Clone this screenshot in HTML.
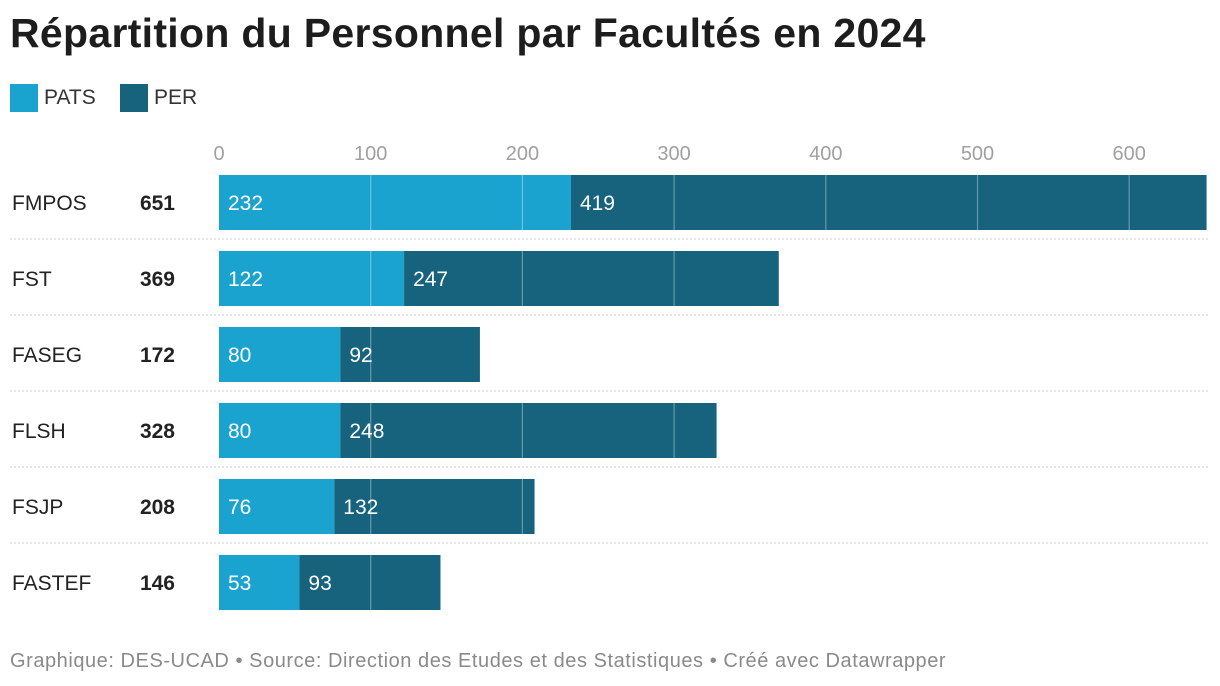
<!DOCTYPE html>
<html><head><meta charset="utf-8"><style>
body{margin:0;background:#fff;font-family:"Liberation Sans",sans-serif;}
#wrap{position:relative;width:1220px;height:686px;overflow:hidden}
h1{position:absolute;left:10px;top:10px;margin:0;font-size:41px;font-weight:bold;color:#1d1d1d;letter-spacing:0.3px}
.leg{position:absolute;top:84px;font-size:21px;color:#333;display:flex;align-items:center}
.sw{width:28px;height:28px;margin-right:6px}
.foot{position:absolute;left:10px;top:650px;font-size:20px;color:#8a8a8a;letter-spacing:0.55px}
</style></head><body>
<div id="wrap">
<h1>Répartition du Personnel par Facultés en 2024</h1>
<div class="leg" style="left:10px"><div class="sw" style="background:#1ba3d0"></div>PATS</div>
<div class="leg" style="left:120px"><div class="sw" style="background:#17627c"></div>PER</div>
<svg id="svg" width="1220" height="686" style="position:absolute;left:0;top:0"></svg>
<div class="foot">Graphique: DES-UCAD • Source: Direction des Etudes et des Statistiques • Créé avec Datawrapper</div>
</div>
<script>
const categories=["FMPOS","FST","FASEG","FLSH","FSJP","FASTEF"];
const pats=[232,122,80,80,76,53];
const per=[419,247,92,248,132,93];
const ticks=[0,100,200,300,400,500,600];
const svg=document.getElementById('svg');
const NS='http://www.w3.org/2000/svg';
const x=v=>219+v*1.517;
const rowY=i=>175+i*76;
const BH=55;
function mk(t,a,txt){const e=document.createElementNS(NS,t);for(const k in a)e.setAttribute(k,a[k]);if(txt!==undefined)e.textContent=txt;svg.appendChild(e);return e;}
ticks.forEach(t=>{
 const l=mk('text',{x:x(t),y:160,'text-anchor':'middle','font-size':20,fill:'#a0a0a0','font-family':'Liberation Sans'},t);
 
 
});
categories.forEach((c,i)=>{
 const y=rowY(i);
 if(i>0){const s=mk('line',{x1:10,x2:1208,y1:y-12,y2:y-12,stroke:'#cccccc','stroke-dasharray':'2,2'});
 
 }
 const lb=mk('text',{x:12,y:y+35,'font-size':21,fill:'#222'},c);
 
 
 const tot=mk('text',{x:175,y:y+35,'font-size':21,'font-weight':'bold',fill:'#222','text-anchor':'end'},pats[i]+per[i]);
 
 
 const b1=mk('rect',{x:x(0),y:y,width:x(pats[i])-x(0),height:BH,fill:'#1ba3d0'});
 
 
 const b2=mk('rect',{x:x(pats[i]),y:y,width:x(pats[i]+per[i])-x(pats[i]),height:BH,fill:'#17627c'});
 
 
 ticks.forEach(t=>{if(t>0&&t<pats[i]+per[i]){const g=mk('line',{x1:x(t),x2:x(t),y1:y,y2:y+BH,stroke:'rgba(255,255,255,0.35)','stroke-width':1.2});
 
 }});
 const v1=mk('text',{x:x(0)+9,y:y+35,'font-size':21,fill:'#fff'},pats[i]);
 
 
 const v2=mk('text',{x:x(pats[i])+9,y:y+35,'font-size':21,fill:'#fff'},per[i]);
 
 
});
</script>
</body></html>
